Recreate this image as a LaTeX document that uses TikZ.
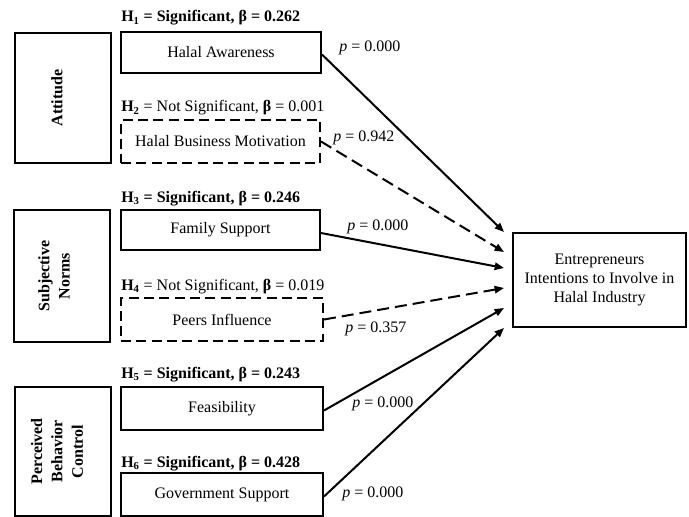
\documentclass[tikz,border=0pt]{standalone}
\usepackage{fontspec}
\setmainfont{Liberation Serif}
\usetikzlibrary{arrows.meta,calc}
\begin{document}
\begin{tikzpicture}[x=0.75pt,y=-0.75pt,
  box/.style={draw,line width=1.5pt,inner sep=0pt,font=\fontsize{12}{14.6}\selectfont,align=center},
  dbox/.style={box,dash pattern=on 7.5pt off 4pt},
  cons/.style={box,font=\fontsize{12}{15}\selectfont\bfseries},
  clab/.style={rotate=90,font=\fontsize{12}{15.3}\selectfont\bfseries,align=center},
  hyp/.style={anchor=base west,inner sep=0pt,font=\fontsize{12}{14}\selectfont},
  pl/.style={anchor=base west,inner sep=0pt,font=\fontsize{12}{14}\selectfont},
  arr/.style={line width=1.5pt,-{Triangle[length=7pt,width=5.5pt]}},
  darr/.style={arr,dash pattern=on 9pt off 4.5pt}]
\useasboundingbox (0,0) rectangle (689,517);
% constructs
\node[cons,minimum width=72pt,minimum height=97.5pt] (att) at (63,98) {};
\node[clab] (attl) at ($(att.center)+(-6,0)$) {Attitude};
\node[cons,minimum width=72pt,minimum height=99pt] (sn) at (62,276) {};
\node[clab] (snl) at ($(sn.center)+(-8,0)$) {Subjective\\Norms};
\node[cons,minimum width=72pt,minimum height=96.75pt] (pbc) at (63,451.5) {};
\node[clab] (pbcl) at ($(pbc.center)+(-6,0)$) {Perceived\\Behavior\\Control};
% indicators
\node[box,minimum width=150pt,minimum height=30.75pt] (ha) at (221,52.5) {Halal Awareness};
\node[dbox,minimum width=149.25pt,minimum height=32.25pt] (hbm) at (220.5,141.5) {Halal Business Motivation};
\node[box,minimum width=149.25pt,minimum height=30pt] (fs) at (220.5,230) {Family Support};
\node[dbox,minimum width=151.5pt,minimum height=32.25pt] (pi) at (222,319.5) {Peers Influence};
\node[box,minimum width=151.5pt,minimum height=32.25pt] (fe) at (222,408.5) {Feasibility};
\node[box,minimum width=151.5pt,minimum height=32.25pt] (gs) at (222,494.5) {Government Support};
% dependent variable
\node[box,minimum width=129.75pt,minimum height=70.5pt] (dv) at (599.5,280) {Entrepreneurs\\Intentions to Involve in\\Halal Industry};
% hypothesis labels
\node[hyp] (h1) at (121,22) {\textbf{H\textsubscript{1} = Significant, β = 0.262}};
\node[hyp] (h2) at (121,112) {\textbf{H\textsubscript{2}} = Not Significant, \textbf{β} = 0.001};
\node[hyp] (h3) at (121,202) {\textbf{H\textsubscript{3} = Significant, β = 0.246}};
\node[hyp] (h4) at (121,290) {\textbf{H\textsubscript{4}} = Not Significant, \textbf{β} = 0.019};
\node[hyp] (h5) at (121,378) {\textbf{H\textsubscript{5} = Significant, β = 0.243}};
\node[hyp] (h6) at (121,467) {\textbf{H\textsubscript{6} = Significant, β = 0.428}};
% arrow ends
\coordinate (e1) at ($(dv.west)+(-8,-48)$);
\coordinate (e2) at ($(dv.west)+(-8,-28)$);
\coordinate (e3) at ($(dv.west)+(-8,-12)$);
\coordinate (e4) at ($(dv.west)+(-8,8)$);
\coordinate (e5) at ($(dv.west)+(-8,28)$);
\coordinate (e6) at ($(dv.west)+(-8,48)$);
\draw[arr] ($(ha.east)+(0,2)$) -- (e1);
\draw[darr] (hbm.east) -- (e2);
\draw[arr] ($(fs.east)+(0,3)$) -- (e3);
\draw[darr] (pi.east) -- (e4);
\draw[arr] ($(fe.east)+(0,2)$) -- (e5);
\draw[arr] ($(gs.east)+(0,2)$) -- (e6);
% p labels
\node[pl] (p1) at (339,52) {\textit{p} = 0.000};
\node[pl] (p2) at (333,142) {\textit{p} = 0.942};
\node[pl] (p3) at (347,230) {\textit{p} = 0.000};
\node[pl] (p4) at (345,332) {\textit{p} = 0.357};
\node[pl] (p5) at (352,407) {\textit{p} = 0.000};
\node[pl] (p6) at (342,497) {\textit{p} = 0.000};
\end{tikzpicture}
\end{document}
